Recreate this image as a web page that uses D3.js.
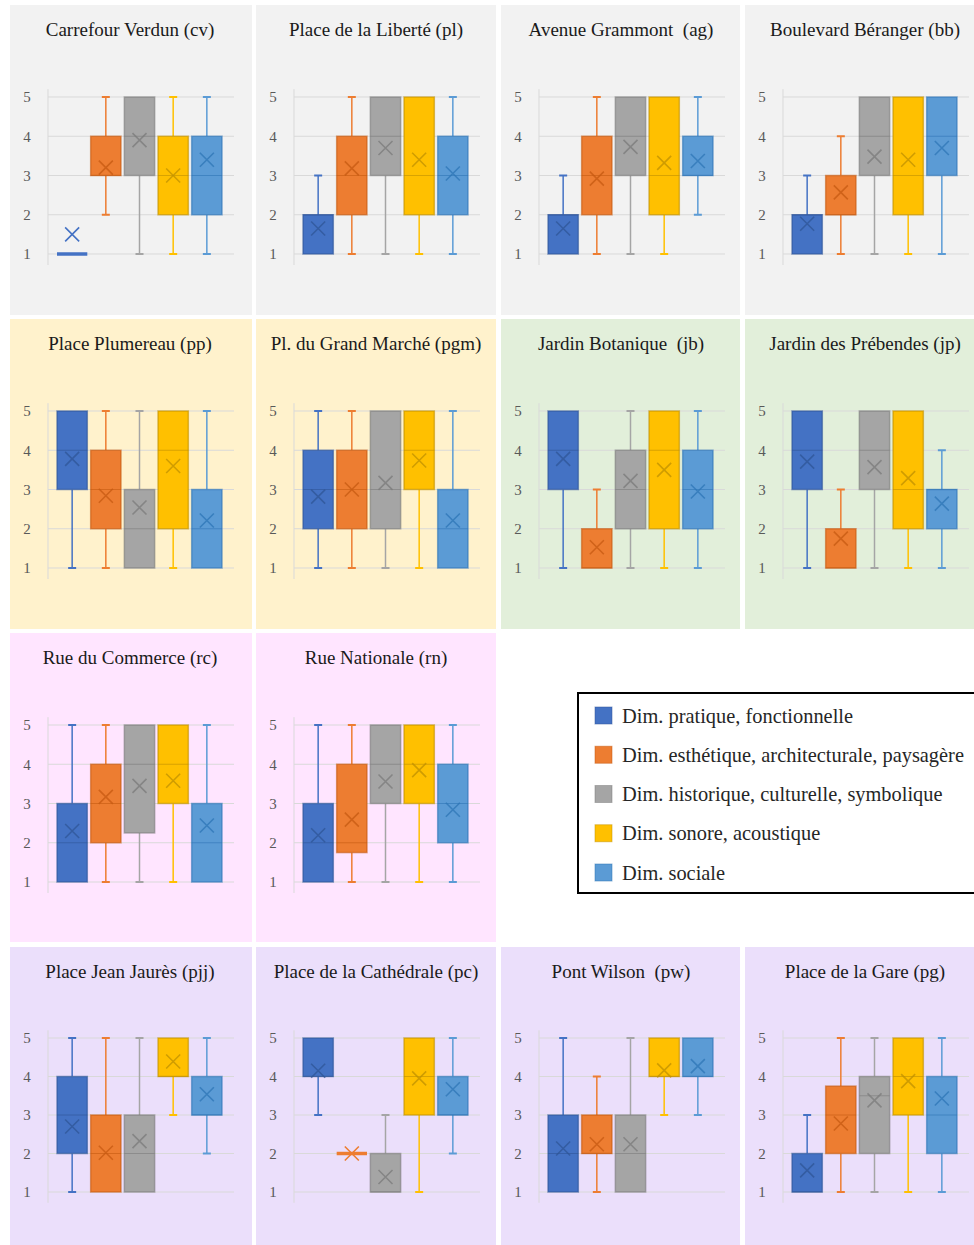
<!DOCTYPE html>
<html>
<head>
<meta charset="utf-8">
<script src="https://cdn.jsdelivr.net/npm/d3@7"></script>
<style>
  html, body { margin: 0; padding: 0; background: #ffffff; }
  svg { display: block; }
</style>
</head>
<body>
<svg id="chart" width="974" height="1245"></svg>
<script>
// ---------- DATA ----------
const seriesNames = [
  "Dim. pratique, fonctionnelle",
  "Dim. esthétique, architecturale, paysagère",
  "Dim. historique, culturelle, symbolique",
  "Dim. sonore, acoustique",
  "Dim. sociale"
];
const seriesColors = ["#4472c4", "#ed7d31", "#a5a5a5", "#ffc000", "#5b9bd5"];
const seriesDark   = ["#2f5597", "#c55a11", "#7b7b7b", "#bf9000", "#2e75b6"];
const yTicks = [1, 2, 3, 4, 5];

// each row: [min, q1, median, q3, max, mean] for the 5 dimensions
const cv  = [[1,1,1,1,1,1.5],  [2,3,3,4,5,3.2],   [1,3,4,5,5,3.9],  [1,2,3,4,5,3.0],  [1,2,3,4,5,3.4]];
const pl  = [[1,1,2,2,3,1.65], [1,2,3,4,5,3.18],  [1,3,4,5,5,3.7],  [1,2,3,5,5,3.4],  [1,2,3,4,5,3.05]];
const ag  = [[1,1,2,2,3,1.65], [1,2,3,4,5,2.92],  [1,3,4,5,5,3.73], [1,2,3,5,5,3.32], [2,3,3,4,5,3.37]];
const bb  = [[1,1,2,2,3,1.77], [1,2,2,3,4,2.57],  [1,3,4,5,5,3.48], [1,2,3,5,5,3.4],  [1,3,4,5,5,3.7]];
const pp  = [[1,3,4,5,5,3.78], [1,2,3,4,5,2.84],  [1,1,2,3,5,2.54], [1,2,4,5,5,3.6],  [1,1,2,3,5,2.21]];
const pgm = [[1,2,3,4,5,2.82], [1,2,3,4,5,3.0],   [1,2,3,5,5,3.17], [1,3,4,5,5,3.74], [1,1,2,3,5,2.21]];
const jb  = [[1,3,4,5,5,3.78], [1,1,1,2,3,1.53],  [1,2,3,4,5,3.22], [1,2,4,5,5,3.5],  [1,2,3,4,5,2.95]];
const jp  = [[1,3,4,5,5,3.71], [1,1,1,2,3,1.75],  [1,3,4,5,5,3.57], [1,2,3,5,5,3.29], [1,2,3,3,4,2.64]];
const rc  = [[1,1,2,3,5,2.3],  [1,2,3,4,5,3.17],  [1,2.25,4,5,5,3.45], [1,3,4,5,5,3.58], [1,1,2,3,5,2.44]];
const rn  = [[1,1,2,3,5,2.19], [1,1.75,2,4,5,2.59], [1,3,4,5,5,3.56], [1,3,4,5,5,3.85], [1,2,3,4,5,2.84]];
const pjj = [[1,2,3,4,5,2.7],  [1,1,2,3,5,2.02],  [1,1,2,3,5,2.32], [3,4,4,5,5,4.39], [2,3,3,4,5,3.54]];
const pc  = [[3,4,4,5,5,4.15], [2,2,2,2,2,2.0],   [1,1,1,2,3,1.39], [1,3,4,5,5,3.95], [2,3,3,4,5,3.67]];
const pw  = [[1,1,2,3,5,2.13], [1,2,2,3,4,2.24],  [1,1,2,3,5,2.24], [3,4,4,5,5,4.16], [3,4,4,5,5,4.27]];
const pg  = [[1,1,1,2,3,1.56], [1,2,3,3.75,5,2.78], [1,2,3.5,4,5,3.38], [1,3,4,5,5,3.88], [1,2,3,4,5,3.43]];

const panelTitles = [
  "Carrefour Verdun (cv)", "Place de la Liberté (pl)", "Avenue Grammont  (ag)", "Boulevard Béranger (bb)",
  "Place Plumereau (pp)", "Pl. du Grand Marché (pgm)", "Jardin Botanique  (jb)", "Jardin des Prébendes (jp)",
  "Rue du Commerce (rc)", "Rue Nationale (rn)",
  "Place Jean Jaurès (pjj)", "Place de la Cathédrale (pc)", "Pont Wilson  (pw)", "Place de la Gare (pg)"
];
const panelData = [cv, pl, ag, bb, pp, pgm, jb, jp, rc, rn, pjj, pc, pw, pg];
const panelCells = [[0,0],[0,1],[0,2],[0,3],[1,0],[1,1],[1,2],[1,3],[2,0],[2,1],[3,0],[3,1],[3,2],[3,3]];
const panelBg = ["#f2f2f2","#f2f2f2","#f2f2f2","#f2f2f2",
                 "#fff2cc","#fff2cc","#e2efda","#e2efda",
                 "#ffe5ff","#ffe5ff",
                 "#ebdffb","#ebdffb","#ebdffb","#ebdffb"];

// ---------- LAYOUT ----------
const colX = [10, 256, 501, 745];
const colW = [242, 240, 239, 229];
const rowY = [5, 319, 633, 947];
const rowH = [310, 310, 309, 298];

const svg = d3.select("#chart");
const serif = "'Liberation Serif', 'Times New Roman', serif";

panelData.forEach((data, i) => {
  const [r, c] = panelCells[i];
  const left = colX[c], top = rowY[r];
  const g = svg.append("g");

  g.append("rect")
    .attr("x", left).attr("y", top)
    .attr("width", colW[c]).attr("height", rowH[r])
    .attr("fill", panelBg[i]);

  g.append("text")
    .attr("x", left + 120).attr("y", top + 31)
    .attr("text-anchor", "middle")
    .attr("font-family", serif).attr("font-size", 19)
    .attr("fill", "#1a1a1a")
    .style("white-space", "pre")
    .text(panelTitles[i]);

  const y = d3.scaleLinear().domain([1, 5])
    .range(r === 3 ? [top + 245, top + 91] : [top + 249, top + 92]);
  const x = d3.scaleBand().domain(d3.range(5))
    .range([left + 47, left + 212]).paddingInner(0.1).paddingOuter(0);

  // gridlines
  g.selectAll(".grid").data(yTicks).join("line")
    .attr("x1", left + 38).attr("x2", left + 224)
    .attr("y1", d => y(d)).attr("y2", d => y(d))
    .attr("stroke", "#d9d9d9").attr("stroke-width", 1);
  // vertical axis line
  g.append("line")
    .attr("x1", left + 38).attr("x2", left + 38)
    .attr("y1", y(5.2)).attr("y2", y(0.72))
    .attr("stroke", "#d9d9d9").attr("stroke-width", 1);
  // tick labels
  g.selectAll(".tick").data(yTicks).join("text")
    .attr("x", left + 17).attr("y", d => y(d))
    .attr("dy", "0.35em").attr("text-anchor", "middle")
    .attr("font-family", serif).attr("font-size", 15)
    .attr("fill", "#595959")
    .text(d => d);

  data.forEach((s, k) => {
    const [mn, q1, med, q3, mx, mean] = s;
    const cx = x(k) + x.bandwidth() / 2;
    const bw = x.bandwidth();
    const col = seriesColors[k], dark = seriesDark[k];
    // whiskers
    [[mn, q1], [q3, mx]].forEach(([a, b]) => {
      if (b > a) {
        g.append("line").attr("x1", cx).attr("x2", cx)
          .attr("y1", y(a)).attr("y2", y(b))
          .attr("stroke", col).attr("stroke-width", 1.5);
      }
    });
    if (mx > q3) g.append("line").attr("x1", cx - 4).attr("x2", cx + 4)
      .attr("y1", y(mx)).attr("y2", y(mx)).attr("stroke", col).attr("stroke-width", 2);
    if (mn < q1) g.append("line").attr("x1", cx - 4).attr("x2", cx + 4)
      .attr("y1", y(mn)).attr("y2", y(mn)).attr("stroke", col).attr("stroke-width", 2);
    if (q3 > q1) {
      // box
      g.append("rect")
        .attr("x", x(k)).attr("y", y(q3))
        .attr("width", bw).attr("height", y(q1) - y(q3))
        .attr("fill", col).attr("stroke", dark).attr("stroke-opacity", 0.6)
        .attr("stroke-width", 1.5);
      // median
      g.append("line")
        .attr("x1", x(k)).attr("x2", x(k) + bw)
        .attr("y1", y(med)).attr("y2", y(med))
        .attr("stroke", dark).attr("stroke-opacity", 0.6).attr("stroke-width", 1);
    } else {
      // collapsed box: thick line
      g.append("line")
        .attr("x1", x(k)).attr("x2", x(k) + bw)
        .attr("y1", y(q1)).attr("y2", y(q1))
        .attr("stroke", col).attr("stroke-width", 3.5);
    }
    // mean marker
    const my = y(mean), h = 7;
    const inside = mean <= q3 && mean >= q1 && q3 > q1;
    const mc = inside ? dark : col;
    g.append("path")
      .attr("d", `M${cx - h},${my - h}L${cx + h},${my + h}M${cx - h},${my + h}L${cx + h},${my - h}`)
      .attr("stroke", mc).attr("stroke-opacity", inside ? 0.75 : 1)
      .attr("stroke-width", 1.6).attr("fill", "none");
  });
});

// ---------- LEGEND ----------
const lg = svg.append("g");
lg.append("rect")
  .attr("x", 578).attr("y", 693)
  .attr("width", 410).attr("height", 200)
  .attr("fill", "#ffffff").attr("stroke", "#000000").attr("stroke-width", 2);
const ly = d3.scalePoint().domain(d3.range(5)).range([715.5, 872.5]);
seriesNames.forEach((name, k) => {
  lg.append("rect")
    .attr("x", 595).attr("y", ly(k) - 8.5)
    .attr("width", 17).attr("height", 17)
    .attr("fill", seriesColors[k]).attr("stroke", seriesDark[k]).attr("stroke-opacity", 0.5).attr("stroke-width", 1);
  lg.append("text")
    .attr("x", 622).attr("y", ly(k))
    .attr("dy", "0.35em")
    .attr("font-family", serif).attr("font-size", 20.4)
    .attr("fill", "#262626")
    .text(name);
});
</script>
</body>
</html>
